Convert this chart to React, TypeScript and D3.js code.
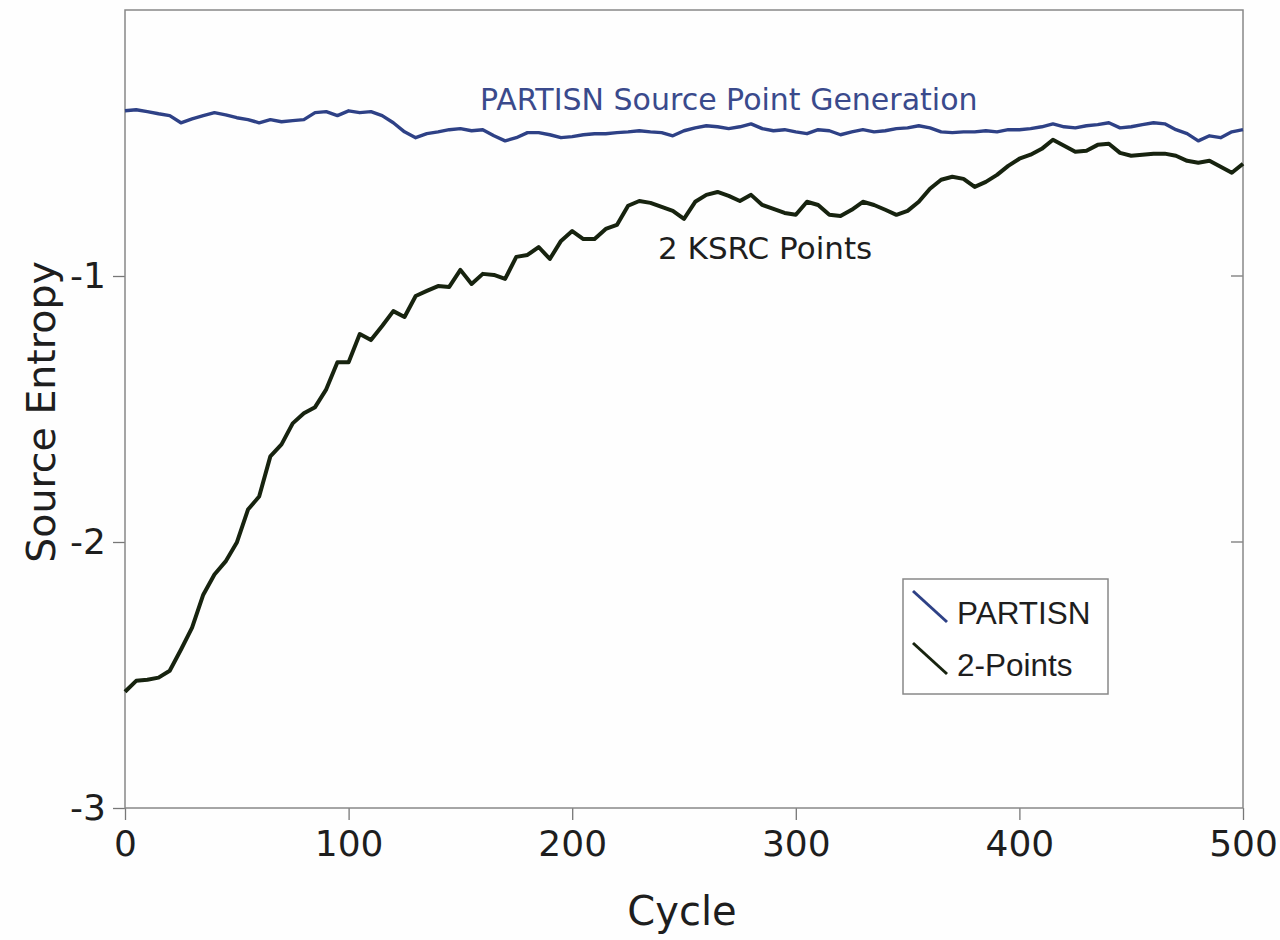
import React, { useRef, useEffect } from "react";
import * as d3 from "d3";

const cycles = [
  0, 5, 10, 15, 20, 25, 30, 35, 40, 45, 50, 55, 60, 65, 70, 75, 80, 85, 90, 95,
  100, 105, 110, 115, 120, 125, 130, 135, 140, 145, 150, 155, 160, 165, 170, 175, 180, 185, 190, 195,
  200, 205, 210, 215, 220, 225, 230, 235, 240, 245, 250, 255, 260, 265, 270, 275, 280, 285, 290, 295,
  300, 305, 310, 315, 320, 325, 330, 335, 340, 345, 350, 355, 360, 365, 370, 375, 380, 385, 390, 395,
  400, 405, 410, 415, 420, 425, 430, 435, 440, 445, 450, 455, 460, 465, 470, 475, 480, 485, 490, 495,
  500,
];

// PARTISN source point generation
const partisnEntropy = [
  -0.379, -0.375, -0.382, -0.39, -0.397, -0.424, -0.409, -0.397, -0.386, -0.394,
  -0.405, -0.412, -0.424, -0.412, -0.42, -0.416, -0.412, -0.386, -0.382, -0.397,
  -0.379, -0.386, -0.382, -0.397, -0.424, -0.458, -0.48, -0.465, -0.458, -0.45,
  -0.446, -0.454, -0.45, -0.473, -0.492, -0.48, -0.461, -0.461, -0.469, -0.48,
  -0.476, -0.469, -0.465, -0.465, -0.461, -0.458, -0.454, -0.458, -0.461, -0.473,
  -0.454, -0.443, -0.435, -0.439, -0.446, -0.439, -0.428, -0.446, -0.454, -0.45,
  -0.458, -0.465, -0.45, -0.454, -0.469, -0.458, -0.45, -0.458, -0.454, -0.446,
  -0.443, -0.435, -0.443, -0.458, -0.461, -0.458, -0.458, -0.454, -0.458, -0.45,
  -0.45, -0.446, -0.439, -0.428, -0.439, -0.443, -0.435, -0.431, -0.424, -0.443,
  -0.439, -0.431, -0.424, -0.428, -0.45, -0.465, -0.492, -0.473, -0.48, -0.458,
  -0.45,
];

// 2 KSRC points
const ksrcEntropy = [
  -2.563, -2.522, -2.518, -2.51, -2.484, -2.405, -2.322, -2.198, -2.122, -2.073,
  -2.002, -1.878, -1.829, -1.678, -1.633, -1.554, -1.516, -1.493, -1.426, -1.324,
  -1.324, -1.218, -1.241, -1.188, -1.132, -1.154, -1.075, -1.056, -1.038, -1.041,
  -0.977, -1.03, -0.992, -0.996, -1.011, -0.928, -0.921, -0.891, -0.936, -0.868,
  -0.831, -0.861, -0.861, -0.823, -0.808, -0.736, -0.718, -0.725, -0.74, -0.755,
  -0.785, -0.721, -0.695, -0.684, -0.699, -0.718, -0.695, -0.733, -0.748, -0.763,
  -0.77, -0.721, -0.733, -0.77, -0.774, -0.751, -0.721, -0.733, -0.751, -0.77,
  -0.755, -0.721, -0.672, -0.638, -0.627, -0.635, -0.665, -0.646, -0.62, -0.586,
  -0.559, -0.544, -0.522, -0.488, -0.51, -0.533, -0.529, -0.507, -0.503, -0.537,
  -0.548, -0.544, -0.54, -0.54, -0.548, -0.567, -0.574, -0.567, -0.589, -0.612,
  -0.578,
];

const xTicks = [0, 100, 200, 300, 400, 500];
const yTicks = [-3, -2, -1];
const seriesNames = ["PARTISN", "2-Points"];

const BLUE = "#2e4186";
const DARK = "#17230f";
const FONT = "'DejaVu Sans', Verdana, sans-serif";
const LEGEND_FONT = "'Liberation Sans', Arial, sans-serif";

const width = 1280;
const height = 940;
const margin = { top: 10, right: 37, bottom: 132, left: 125 };

const App = () => {
  const svgRef = useRef(null);

  useEffect(() => {
    const svg = d3.select(svgRef.current);
    svg.selectAll("*").remove();

    const chartWidth = width - margin.left - margin.right;
    const chartHeight = height - margin.top - margin.bottom;

    const x = d3.scaleLinear().domain([0, 500]).range([0, chartWidth]);
    const y = d3.scaleLinear().domain([-3, 0]).range([chartHeight, 0]);

    svg.append("rect").attr("width", width).attr("height", height).attr("fill", "#fefefe");

    const g = svg
      .append("g")
      .attr("transform", `translate(${margin.left},${margin.top})`);

    // x axis
    const xAxis = g
      .append("g")
      .attr("transform", `translate(0,${chartHeight})`)
      .call(d3.axisBottom(x).tickValues(xTicks).tickSize(12).tickSizeOuter(0).tickPadding(10));
    xAxis.select(".domain").remove();
    xAxis.selectAll("line").attr("stroke", "#777").attr("stroke-width", 1.3);
    xAxis
      .selectAll("text")
      .attr("fill", "#1e1e1e")
      .style("font-family", FONT)
      .style("font-size", "36px");

    // y axis (plain hyphen minus like the original)
    const yAxis = g
      .append("g")
      .call(
        d3
          .axisLeft(y)
          .tickValues(yTicks)
          .tickSize(12)
          .tickSizeOuter(0)
          .tickPadding(7)
          .tickFormat((d) => String(d))
      );
    yAxis.select(".domain").remove();
    yAxis.selectAll("line").attr("stroke", "#777").attr("stroke-width", 1.3);
    yAxis
      .selectAll("text")
      .attr("fill", "#1e1e1e")
      .style("font-family", FONT)
      .style("font-size", "36px");

    // mirrored ticks on the right edge
    g.append("g")
      .selectAll("line")
      .data(yTicks.slice(1))
      .join("line")
      .attr("x1", chartWidth - 12)
      .attr("x2", chartWidth)
      .attr("y1", (d) => y(d))
      .attr("y2", (d) => y(d))
      .attr("stroke", "#777")
      .attr("stroke-width", 1.3);

    // plot frame
    g.append("rect")
      .attr("width", chartWidth)
      .attr("height", chartHeight)
      .attr("fill", "none")
      .attr("stroke", "#888")
      .attr("stroke-width", 1.5);

    const line = d3
      .line()
      .x((d) => x(d[0]))
      .y((d) => y(d[1]));

    g.append("path")
      .datum(cycles.map((c, i) => [c, partisnEntropy[i]]))
      .attr("fill", "none")
      .attr("stroke", BLUE)
      .attr("stroke-width", 3.4)
      .attr("stroke-linejoin", "round")
      .attr("d", line);

    g.append("path")
      .datum(cycles.map((c, i) => [c, ksrcEntropy[i]]))
      .attr("fill", "none")
      .attr("stroke", DARK)
      .attr("stroke-width", 4)
      .attr("stroke-linejoin", "round")
      .attr("d", line);

    // curve annotations
    svg
      .append("text")
      .attr("x", 480)
      .attr("y", 110)
      .attr("fill", "#3a4a8c")
      .style("font-family", FONT)
      .style("font-size", "30px")
      .text("PARTISN Source Point Generation");

    svg
      .append("text")
      .attr("x", 658)
      .attr("y", 259)
      .attr("fill", "#1e1e1e")
      .style("font-family", FONT)
      .style("font-size", "31px")
      .text("2 KSRC Points");

    // axis titles
    svg
      .append("text")
      .attr("transform", "translate(55,412) rotate(-90)")
      .attr("text-anchor", "middle")
      .attr("fill", "#1e1e1e")
      .style("font-family", FONT)
      .style("font-size", "39.5px")
      .text("Source Entropy");

    svg
      .append("text")
      .attr("x", 682)
      .attr("y", 925)
      .attr("text-anchor", "middle")
      .attr("fill", "#1e1e1e")
      .style("font-family", FONT)
      .style("font-size", "40px")
      .text("Cycle");

    // legend
    const legend = svg.append("g").attr("transform", "translate(903,579)");
    legend
      .append("rect")
      .attr("width", 205)
      .attr("height", 115)
      .attr("fill", "#fff")
      .attr("stroke", "#888")
      .attr("stroke-width", 1.5);
    const colors = [BLUE, DARK];
    const item = legend
      .selectAll("g.item")
      .data(seriesNames)
      .join("g")
      .attr("class", "item")
      .attr("transform", (d, i) => `translate(0,${12 + i * 52})`);
    item
      .append("line")
      .attr("x1", 10)
      .attr("y1", 0)
      .attr("x2", 44)
      .attr("y2", 31)
      .attr("stroke", (d, i) => colors[i])
      .attr("stroke-width", 3);
    item
      .append("text")
      .attr("x", 54)
      .attr("y", 33)
      .attr("fill", "#1e1e1e")
      .style("font-family", LEGEND_FONT)
      .style("font-size", "31.5px")
      .text((d) => d);
  }, []);

  return (
    <svg
      ref={svgRef}
      width={width}
      height={height}
      style={{ position: "absolute", left: 0, top: 0, display: "block" }}
    ></svg>
  );
};

export default App;
